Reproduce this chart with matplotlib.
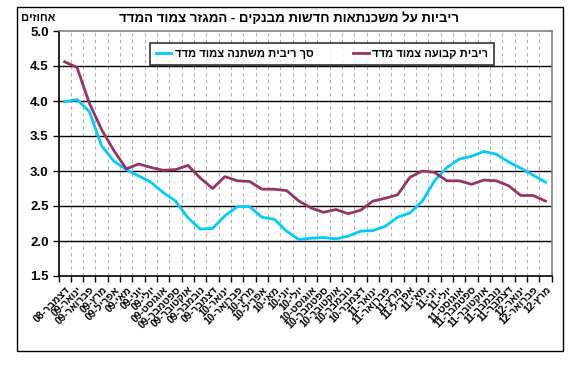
import re
import numpy as np
import matplotlib
matplotlib.use("Agg")
import matplotlib.pyplot as plt
from matplotlib.patches import Rectangle
from matplotlib.ticker import FixedLocator, FormatStrFormatter

plt.rcParams['font.family'] = ['Liberation Sans', 'DejaVu Sans']

# ---------- Data ----------
title = "ריביות על משכנתאות חדשות מבנקים - המגזר צמוד המדד"
y_unit = "אחוזים"
fixed_label = "ריבית קבועה צמוד מדד"
variable_label = "סך ריבית משתנה צמוד מדד"

months = [
    "דצמבר-08",
    "ינואר-09", "פברואר-09", "מרץ-09", "אפריל-09", "מאי-09", "יוני-09",
    "יולי-09", "אוגוסט-09", "ספטמבר-09", "אוקטובר-09", "נובמבר-09", "דצמבר-09",
    "ינואר-10", "פברואר-10", "מרץ-10", "אפריל-10", "מאי-10", "יוני-10",
    "יולי-10", "אוגוסט-10", "ספטמבר-10", "אוקטובר-10", "נובמבר-10", "דצמבר-10",
    "ינואר-11", "פברואר-11", "מרץ-11", "אפריל-11", "מאי-11", "יוני-11",
    "יולי-11", "אוגוסט-11", "ספטמבר-11", "אוקטובר-11", "נובמבר-11", "דצמבר-11",
    "ינואר-12", "פברואר-12", "מרץ-12",
]

fixed_rate = [4.56, 4.48, 3.97, 3.59, 3.29, 3.03, 3.10, 3.05, 3.01, 3.02,
              3.08, 2.90, 2.75, 2.92, 2.86, 2.85, 2.74, 2.74, 2.72, 2.57,
              2.47, 2.41, 2.45, 2.39, 2.44, 2.57, 2.61, 2.66, 2.91, 3.00,
              2.98, 2.86, 2.86, 2.81, 2.87, 2.86, 2.79, 2.65, 2.65, 2.57]

variable_rate = [3.99, 4.02, 3.85, 3.36, 3.14, 3.02, 2.93, 2.84, 2.69, 2.57,
                 2.33, 2.17, 2.18, 2.36, 2.49, 2.49, 2.34, 2.31, 2.14, 2.02,
                 2.04, 2.05, 2.03, 2.07, 2.14, 2.15, 2.21, 2.34, 2.40, 2.57,
                 2.86, 3.05, 3.17, 3.21, 3.28, 3.24, 3.13, 3.04, 2.94, 2.84]

y_ticks = [1.5, 2.0, 2.5, 3.0, 3.5, 4.0, 4.5, 5.0]


def vis(s):
    """matplotlib has no bidi support: flip Hebrew to visual order, keep digit runs."""
    r = s[::-1]
    return re.sub(r"\d+", lambda m: m.group(0)[::-1], r)


# ---------- Figure ----------
W, H = 577, 365
fig = plt.figure(figsize=(W / 100, H / 100), dpi=100)

# outer chart frame
fig.patches.append(Rectangle((17 / W, 1 - 351 / H), (563 - 17) / W, (351 - 7) / H,
                             transform=fig.transFigure, fill=False,
                             edgecolor='black', linewidth=1.0))

ax = fig.add_axes([58.5 / W, 1 - 276 / H, (551.7 - 58.5) / W, (276 - 31) / H])

x = np.arange(len(months))
ax.plot(x, variable_rate, color='#00CCFF', lw=2.0, label=vis(variable_label),
        solid_joinstyle='round')
ax.plot(x, fixed_rate, color='#993366', lw=2.0, label=vis(fixed_label),
        solid_joinstyle='round')

ax.set_xlim(-0.5, len(months) - 0.5)
ax.set_ylim(1.5, 5.0)

# horizontal gridlines
for yv in y_ticks[1:-1]:
    ax.axhline(yv, color='black', lw=1.0, zorder=1)
# vertical dashed gridlines at category boundaries
for xb in np.arange(0.5, len(months) - 1, 1.0):
    ax.axvline(xb, color='#B0B0B0', lw=0.8, ls=(0, (3, 3)), zorder=0)

ax.set_yticks(y_ticks)
ax.yaxis.set_major_formatter(FormatStrFormatter('%.1f'))
ax.tick_params(axis='y', direction='out', length=4, width=1, pad=3,
               labelsize=9.5)
for t in ax.get_yticklabels():
    t.set_fontweight('bold')

ax.set_xticks(x)
ax.set_xticklabels([vis(m) for m in months], rotation=45, ha='right',
                   va='top', rotation_mode='anchor', fontsize=7.3,
                   fontweight='bold')
ax.tick_params(axis='x', which='major', length=0, pad=6)
ax.xaxis.set_minor_locator(FixedLocator(np.arange(-0.5, len(months), 1.0)))
ax.tick_params(axis='x', which='minor', direction='out', length=4, width=1)

for side in ['left', 'bottom']:
    ax.spines[side].set_color('black')
    ax.spines[side].set_linewidth(1.2)
for side in ['top', 'right']:
    ax.spines[side].set_color('#808080')
    ax.spines[side].set_linewidth(1.2)

# title and unit
fig.text(289 / W, 1 - 19 / H, vis(title), ha='center', va='center',
         fontsize=9.5, fontweight='bold')
fig.text(38 / W, 1 - 18 / H, vis(y_unit), ha='center', va='center',
         fontsize=8, fontweight='bold')

leg = ax.legend(loc='center', bbox_to_anchor=(322 / W, 1 - 54 / H),
                bbox_transform=fig.transFigure, ncol=2,
                prop={'weight': 'bold', 'size': 8}, frameon=True, fancybox=False,
                handlelength=1.4, handletextpad=0.3, columnspacing=3.6,
                borderpad=0.55)
leg.get_frame().set_edgecolor('black')
leg.get_frame().set_linewidth(1.2)

fig.savefig("out.png", dpi=100)
